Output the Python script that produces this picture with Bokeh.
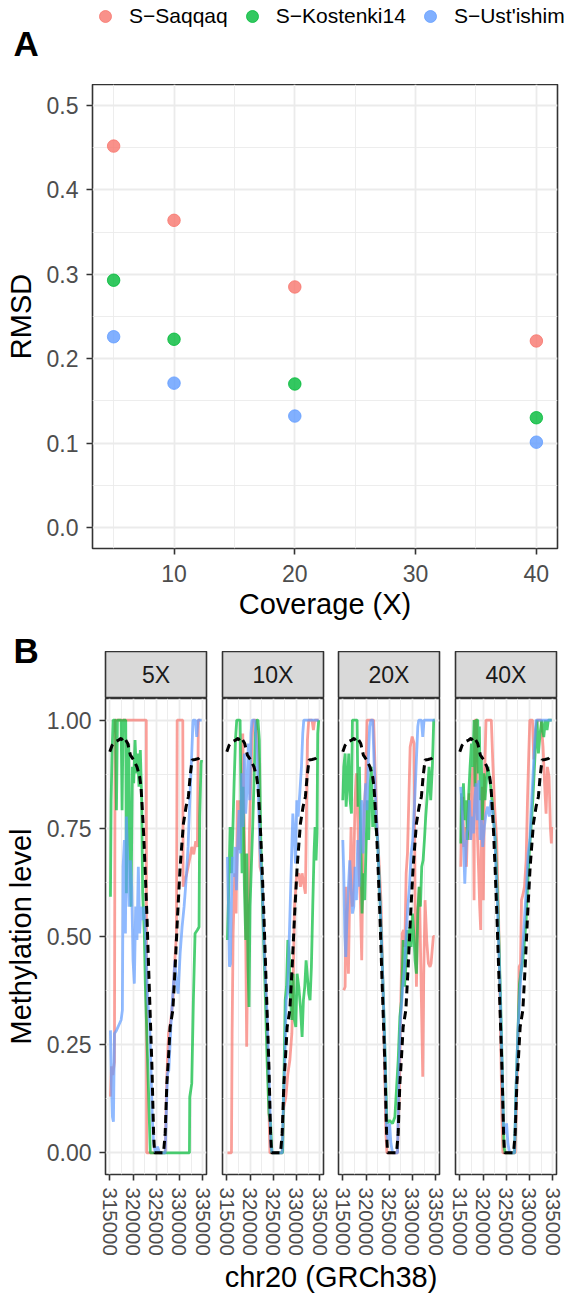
import math
from bokeh.plotting import figure
from bokeh.models import (Legend, LegendItem, Label, FixedTicker, NumeralTickFormatter,
                          Range1d, Grid, Spacer)
from bokeh.layouts import column, row
from bokeh.embed import file_html
from bokeh.resources import INLINE

# ---------------- data ----------------
samples = ["S\u2212Saqqaq", "S\u2212Kostenki14", "S\u2212Ust'ishim"]
colors = ["#F8766D", "#00BA38", "#619CFF"]

# Panel A: RMSD by coverage
coverage = [5, 10, 20, 40]
rmsd_saqqaq = [0.452, 0.364, 0.285, 0.221]
rmsd_kostenki14 = [0.293, 0.223, 0.170, 0.130]
rmsd_ustishim = [0.226, 0.171, 0.132, 0.101]

# Panel B: methylation along chr20 (position in kb, level)
facets = ["5X", "10X", "20X", "40X"]
x_breaks = [315000, 320000, 325000, 330000, 335000]

reference = [(315.00, 0.927), (315.50, 0.942), (316.21, 0.950), (316.93, 0.954), (317.43, 0.958),
             (318.00, 0.950), (318.36, 0.955), (318.86, 0.946), (319.43, 0.919), (320.14, 0.908),
             (320.85, 0.892), (321.43, 0.869), (321.71, 0.846), (321.93, 0.807), (322.28, 0.738),
             (322.64, 0.646), (323.00, 0.545), (323.35, 0.430), (323.71, 0.314), (324.07, 0.199),
             (324.42, 0.045), (324.64, 0.0), (326.57, 0.0), (326.92, 0.045), (327.28, 0.160),
             (327.64, 0.222), (327.99, 0.291), (328.57, 0.330), (329.07, 0.430), (329.57, 0.545),
             (330.14, 0.661), (330.85, 0.761), (331.42, 0.800), (331.92, 0.823), (332.28, 0.869),
             (332.71, 0.908), (333.35, 0.909), (334.06, 0.911), (334.78, 0.919)]

saqqaq_5x = [(315.14, 0.13), (315.36, 0.20), (315.64, 0.18), (316.00, 0.21), (316.14, 1.0),
             (322.85, 1.0), (322.93, 0.0), (326.92, 0.0), (327.28, 0.176), (327.64, 0.276),
             (328.14, 0.307), (328.57, 0.353), (329.00, 0.445), (329.35, 0.507), (329.50, 1.0),
             (330.71, 1.0), (330.78, 0.615), (331.56, 0.645), (332.28, 0.684), (332.64, 0.707),
             (333.07, 0.69), (333.50, 0.72), (333.85, 0.707), (334.06, 1.0), (334.42, 1.0)]
kostenki14_5x = [(315.14, 0.592), (315.28, 0.815), (315.50, 0.931), (315.71, 1.0), (316.21, 1.0),
                 (316.43, 0.792), (316.64, 1.0), (317.43, 1.0), (317.64, 0.792), (317.86, 1.0),
                 (318.43, 1.0), (318.57, 0.60), (318.78, 0.854), (319.07, 0.946), (319.28, 0.70),
                 (319.57, 0.569), (319.86, 0.892), (320.14, 0.854), (320.43, 0.954), (320.71, 0.877),
                 (321.00, 0.923), (321.28, 0.846), (321.57, 0.931), (321.86, 0.815), (322.07, 0.60),
                 (322.43, 0.507), (322.64, 0.391), (323.35, 0.137), (323.71, 0.0), (332.14, 0.0),
                 (332.21, 0.129), (332.64, 0.16), (332.99, 0.353), (333.35, 0.507), (333.85, 0.515),
                 (334.21, 0.522), (334.35, 0.777), (334.64, 0.90), (334.78, 0.908)]
ustishim_5x = [(315.14, 0.283), (315.36, 0.16), (315.57, 0.083), (315.78, 0.072), (316.00, 0.276),
               (316.43, 0.283), (316.93, 0.295), (317.43, 0.307), (317.71, 0.33), (317.86, 0.661),
               (318.14, 0.723), (318.36, 0.507), (318.57, 0.777), (318.86, 0.676), (319.14, 0.569),
               (319.43, 0.676), (319.71, 0.615), (320.00, 0.445), (320.28, 0.391), (320.57, 0.569),
               (320.85, 0.492), (321.14, 0.661), (321.43, 0.507), (321.71, 0.569), (322.07, 0.538),
               (322.43, 0.569), (322.71, 0.507), (323.14, 0.353), (323.57, 0.299), (323.85, 0.199),
               (324.14, 0.083), (324.42, 0.022), (324.85, 0.0), (325.28, 0.014), (325.71, 0.0),
               (326.92, 0.0), (327.14, 0.083), (327.42, 0.183), (327.71, 0.191), (328.14, 0.291),
               (328.57, 0.368), (329.00, 0.445), (329.35, 0.391), (329.71, 0.368), (330.14, 0.461),
               (330.56, 0.522), (330.99, 0.569), (331.42, 0.630), (331.85, 0.707), (332.28, 0.831),
               (332.64, 0.923), (332.92, 1.0), (333.42, 1.0), (333.71, 0.961), (334.00, 1.0),
               (334.78, 1.0)]

saqqaq_10x = [(315.14, 0.0), (316.00, 0.0), (316.14, 0.276), (316.36, 0.507), (316.71, 0.646),
              (317.00, 0.553), (317.28, 0.815), (317.57, 0.700), (317.86, 0.815), (318.14, 0.753),
              (318.43, 0.969), (318.71, 0.777), (319.00, 0.584), (319.28, 0.245), (319.57, 0.507),
              (319.86, 0.738), (320.14, 0.854), (320.43, 0.954), (320.71, 1.0), (321.28, 1.0),
              (321.57, 0.969), (321.93, 0.892), (322.14, 0.661), (322.50, 0.646), (323.00, 0.507),
              (323.71, 0.276), (324.28, 0.0), (326.92, 0.0), (327.28, 0.106), (327.71, 0.129),
              (328.14, 0.183), (328.57, 0.214), (329.00, 0.276), (329.28, 0.391), (329.57, 0.569),
              (330.00, 0.638), (330.49, 0.646), (330.85, 0.615), (331.21, 0.646), (331.56, 0.622),
              (331.92, 0.599), (332.14, 0.777), (332.35, 0.954), (332.64, 1.0), (333.35, 1.0),
              (333.64, 0.977), (333.92, 1.0), (334.78, 1.0)]
kostenki14_10x = [(315.14, 0.492), (315.43, 0.615), (315.71, 0.753), (316.00, 0.646), (316.28, 0.738),
                  (316.57, 0.854), (316.86, 0.954), (317.14, 1.0), (317.86, 1.0), (318.07, 0.80),
                  (318.28, 0.646), (318.50, 0.846), (318.78, 0.615), (319.07, 0.492), (319.28, 0.692),
                  (319.57, 0.43), (319.78, 0.337), (320.00, 0.569), (320.28, 0.661), (320.57, 0.753),
                  (320.85, 0.854), (321.14, 0.969), (321.43, 1.0), (321.71, 1.0), (322.00, 0.954),
                  (322.28, 0.738), (322.71, 0.569), (323.21, 0.391), (323.71, 0.199), (324.07, 0.091),
                  (324.42, 0.068), (324.71, 0.0), (327.00, 0.0), (327.28, 0.160), (327.57, 0.353),
                  (327.85, 0.384), (328.14, 0.492), (328.42, 0.461), (328.71, 0.353), (329.00, 0.307),
                  (329.28, 0.414), (329.57, 0.307), (329.85, 0.291), (330.14, 0.414), (330.49, 0.384),
                  (330.85, 0.337), (331.21, 0.268), (331.49, 0.353), (331.78, 0.384), (332.07, 0.445),
                  (332.35, 0.406), (332.64, 0.368), (332.92, 0.353), (333.21, 0.43), (333.50, 0.569),
                  (333.78, 0.692), (334.00, 0.753), (334.21, 0.676), (334.42, 0.738), (334.57, 0.969),
                  (334.78, 1.0)]
ustishim_10x = [(315.14, 0.684), (315.36, 0.569), (315.57, 0.43), (315.78, 0.437), (316.00, 0.584),
                (316.21, 0.684), (316.50, 0.638), (316.78, 0.707), (317.07, 0.607), (317.36, 0.723),
                (317.64, 0.792), (317.93, 0.692), (318.21, 0.877), (318.50, 0.753), (318.78, 0.923),
                (319.07, 0.784), (319.36, 0.846), (319.64, 0.946), (319.93, 0.815), (320.21, 0.969),
                (320.43, 1.0), (321.00, 1.0), (321.36, 0.954), (321.71, 0.854), (322.14, 0.70),
                (322.64, 0.615), (323.14, 0.445), (323.71, 0.307), (324.14, 0.160), (324.50, 0.014),
                (324.78, 0.0), (326.92, 0.0), (327.21, 0.122), (327.50, 0.214), (327.78, 0.353),
                (328.07, 0.368), (328.35, 0.461), (328.64, 0.569), (328.92, 0.676), (329.21, 0.784),
                (329.50, 0.738), (329.78, 0.669), (330.07, 0.815), (330.35, 0.777), (330.71, 0.831),
                (331.07, 0.892), (331.35, 0.969), (331.57, 1.0), (334.78, 1.0)]

saqqaq_20x = [(315.21, 0.376), (315.50, 0.384), (315.71, 0.615), (315.93, 0.507), (316.21, 0.414),
              (316.50, 0.615), (316.78, 0.753), (317.07, 0.569), (317.36, 0.661), (317.64, 0.815),
              (317.93, 0.877), (318.21, 0.777), (318.50, 0.646), (318.78, 0.584), (319.07, 0.445),
              (319.36, 0.70), (319.64, 0.80), (319.93, 0.854), (320.21, 1.0), (321.64, 1.0),
              (321.93, 0.892), (322.35, 0.753), (322.78, 0.676), (323.21, 0.584), (323.78, 0.314),
              (324.28, 0.045), (324.50, 0.0), (326.78, 0.0), (327.21, 0.16), (327.50, 0.353),
              (327.78, 0.507), (328.07, 0.515), (328.35, 0.476), (328.64, 0.646), (328.92, 0.692),
              (329.21, 0.815), (329.50, 0.938), (329.93, 0.962), (330.35, 0.946), (330.56, 0.584),
              (330.85, 0.384), (331.14, 0.553), (331.49, 0.615), (331.92, 0.353), (332.21, 0.176),
              (332.42, 0.414), (332.71, 0.584), (333.07, 0.49), (333.42, 0.438), (333.78, 0.43),
              (334.00, 0.438), (334.49, 0.50), (334.78, 0.50)]
kostenki14_20x = [(315.00, 0.815), (315.21, 0.892), (315.50, 0.923), (315.71, 0.80), (316.00, 0.854),
                  (316.28, 0.923), (316.57, 0.815), (316.86, 0.784), (317.07, 1.0), (318.07, 1.0),
                  (318.28, 0.80), (318.57, 0.892), (318.86, 0.723), (319.14, 0.553), (319.43, 0.646),
                  (319.71, 0.584), (320.00, 0.707), (320.28, 0.815), (320.57, 0.723), (320.85, 0.846),
                  (321.14, 0.892), (321.43, 0.753), (321.71, 0.815), (322.07, 0.753), (322.50, 0.723),
                  (323.07, 0.569), (323.64, 0.391), (324.07, 0.237), (324.50, 0.068), (325.07, 0.075),
                  (325.71, 0.068), (326.21, 0.083), (326.92, 0.214), (327.28, 0.314), (327.64, 0.353),
                  (327.99, 0.492), (328.28, 0.384), (328.57, 0.43), (328.85, 0.515), (329.14, 0.461),
                  (329.42, 0.522), (329.71, 0.476), (330.00, 0.553), (330.28, 0.507), (330.56, 0.445),
                  (330.85, 0.414), (331.14, 0.553), (331.42, 0.615), (331.71, 0.569), (331.99, 0.661),
                  (332.28, 0.676), (332.57, 0.723), (332.85, 0.777), (333.21, 0.831), (333.57, 0.892),
                  (333.92, 0.815), (334.28, 0.892), (334.57, 1.0), (334.78, 1.0)]
ustishim_20x = [(315.00, 0.723), (315.21, 0.646), (315.43, 0.507), (315.64, 0.453), (315.93, 0.553),
                (316.21, 0.615), (316.50, 0.676), (316.78, 0.615), (317.07, 0.553), (317.36, 0.569),
                (317.64, 0.661), (317.93, 0.584), (318.21, 0.723), (318.50, 0.615), (318.78, 0.753),
                (319.07, 0.815), (319.36, 0.692), (319.64, 0.792), (319.93, 0.854), (320.21, 0.792),
                (320.50, 0.909), (320.78, 0.985), (321.07, 1.0), (321.43, 1.0), (321.71, 0.909),
                (322.07, 0.815), (322.50, 0.723), (323.07, 0.569), (323.64, 0.391), (324.07, 0.23),
                (324.42, 0.052), (324.78, 0.029), (325.07, 0.068), (325.35, 0.022), (325.71, 0.0),
                (326.78, 0.0), (327.07, 0.183), (327.42, 0.307), (327.85, 0.376), (328.28, 0.43),
                (328.64, 0.507), (328.99, 0.569), (329.35, 0.615), (329.71, 0.692), (330.07, 0.723),
                (330.42, 0.80), (330.78, 0.892), (331.14, 0.985), (331.35, 1.0), (331.92, 1.0),
                (332.21, 0.961), (332.49, 1.0), (334.78, 1.0)]

saqqaq_40x = [(315.21, 0.661), (315.43, 0.777), (315.64, 0.823), (315.86, 0.707), (316.14, 0.753),
              (316.43, 0.661), (316.71, 0.777), (317.00, 0.831), (317.28, 0.723), (317.57, 0.854),
              (317.86, 0.892), (318.07, 0.584), (318.21, 1.0), (318.64, 1.0), (318.78, 0.738),
              (319.07, 0.646), (319.28, 0.569), (319.50, 0.515), (319.64, 0.815), (319.86, 0.846),
              (320.07, 0.584), (320.35, 0.877), (320.64, 1.0), (321.78, 1.0), (322.14, 0.892),
              (322.50, 0.80), (322.93, 0.723), (323.35, 0.545), (323.78, 0.276), (324.07, 0.083),
              (324.28, 0.0), (326.92, 0.0), (327.21, 0.122), (327.57, 0.276), (327.78, 0.43),
              (328.07, 0.437), (328.28, 0.584), (328.57, 0.596), (328.92, 0.615), (329.28, 0.676),
              (329.57, 0.815), (329.85, 0.923), (330.07, 1.0), (330.64, 1.0), (330.92, 0.909),
              (331.21, 0.969), (331.64, 1.0), (332.49, 1.0), (332.92, 0.938), (333.28, 0.846),
              (333.57, 0.784), (333.85, 0.892), (334.21, 0.869), (334.49, 0.753), (334.71, 0.715),
              (334.78, 0.753)]
kostenki14_40x = [(315.21, 0.715), (315.36, 0.831), (315.57, 0.792), (315.78, 0.854), (316.07, 0.769),
                  (316.36, 0.815), (316.64, 0.723), (316.93, 0.831), (317.21, 0.892), (317.50, 0.946),
                  (317.78, 0.892), (318.07, 1.0), (318.28, 0.846), (318.50, 1.0), (318.86, 1.0),
                  (319.00, 0.877), (319.21, 0.985), (319.43, 0.815), (319.64, 0.908), (319.86, 0.769),
                  (320.14, 0.877), (320.43, 0.815), (320.71, 0.861), (321.07, 0.892), (321.36, 0.869),
                  (321.64, 0.846), (321.93, 0.815), (322.28, 0.769), (322.64, 0.723), (323.21, 0.569),
                  (323.78, 0.353), (324.21, 0.16), (324.50, 0.014), (324.78, 0.0), (326.78, 0.0),
                  (327.14, 0.16), (327.50, 0.276), (327.85, 0.391), (328.21, 0.421), (328.57, 0.445),
                  (328.92, 0.49), (329.28, 0.538), (329.64, 0.63), (329.99, 0.70), (330.35, 0.753),
                  (330.71, 0.815), (331.07, 0.892), (331.35, 0.954), (331.64, 1.0), (331.92, 0.923),
                  (332.28, 0.969), (332.64, 1.0), (333.07, 0.961), (333.42, 1.0), (333.78, 0.977),
                  (334.06, 1.0), (334.78, 1.0)]
ustishim_40x = [(315.21, 0.846), (315.43, 0.815), (315.64, 0.753), (315.86, 0.70), (316.07, 0.622),
                (316.28, 0.684), (316.50, 0.738), (316.78, 0.753), (317.07, 0.815), (317.36, 0.723),
                (317.64, 0.777), (317.93, 0.738), (318.21, 0.815), (318.50, 0.854), (318.78, 0.769),
                (319.07, 0.861), (319.36, 0.723), (319.64, 0.769), (319.93, 0.707), (320.28, 0.753),
                (320.64, 0.784), (321.00, 0.80), (321.36, 0.777), (321.71, 0.815), (322.07, 0.792),
                (322.50, 0.738), (323.07, 0.584), (323.64, 0.391), (324.07, 0.214), (324.42, 0.052),
                (324.78, 0.045), (325.07, 0.068), (325.35, 0.022), (325.71, 0.0), (326.78, 0.0),
                (327.14, 0.16), (327.50, 0.276), (327.92, 0.368), (328.28, 0.43), (328.64, 0.492),
                (328.99, 0.553), (329.35, 0.615), (329.71, 0.692), (330.07, 0.723), (330.42, 0.80),
                (330.78, 0.877), (331.14, 0.954), (331.42, 1.0), (334.78, 1.0)]

facet_series = {
    "5X": [saqqaq_5x, kostenki14_5x, ustishim_5x],
    "10X": [saqqaq_10x, kostenki14_10x, ustishim_10x],
    "20X": [saqqaq_20x, kostenki14_20x, ustishim_20x],
    "40X": [saqqaq_40x, kostenki14_40x, ustishim_40x],
}

# ---------------- style ----------------
FONT = "Liberation Sans"
GRID_C = "#EBEBEB"
BORDER = "#333333"
TICK_TXT = "#4D4D4D"
NAN = float("nan")


def blank(w, h, bottom=0):
    f = figure(frame_width=w, frame_height=h, min_border=0, min_border_left=0, min_border_right=0,
               min_border_top=0, min_border_bottom=bottom, x_range=Range1d(0, w),
               y_range=Range1d(0, h), x_axis_location=None, y_axis_location=None,
               toolbar_location=None, output_backend="svg")
    f.title.visible = False
    f.grid.visible = False
    f.outline_line_color = None
    f.background_fill_color = "white"
    f.border_fill_color = "white"
    return f


def style_axis(ax, label_size="23px", standoff=8):
    ax.axis_line_color = None
    ax.major_tick_line_color = BORDER
    ax.major_tick_line_width = 1.6
    ax.major_tick_out = 6
    ax.major_tick_in = 0
    ax.minor_tick_line_color = None
    ax.major_label_text_font = FONT
    ax.major_label_text_font_size = label_size
    ax.major_label_text_color = TICK_TXT
    ax.major_label_standoff = standoff
    ax.axis_label_text_font = FONT
    ax.axis_label_text_font_size = "29px"
    ax.axis_label_text_font_style = "normal"
    ax.axis_label_text_color = "black"


def set_grid(p, dim, major, minor):
    grids = [g for g in p.center if isinstance(g, Grid) and g.dimension == dim]
    if not grids:
        g = Grid(dimension=dim)
        p.add_layout(g, "center")
        grids = [g]
    for g in grids:
        g.ticker = FixedTicker(ticks=major, minor_ticks=minor)
        g.grid_line_color = GRID_C
        g.grid_line_width = 1.8
        g.minor_grid_line_color = GRID_C
        g.minor_grid_line_width = 0.9


def text_label(x, y, text, size, bold=False, align="left", angle=0.0, color="black"):
    return Label(x=x, y=y, text=text, angle=angle, text_align=align, text_baseline="middle",
                 text_font=FONT, text_font_size=size,
                 text_font_style="bold" if bold else "normal", text_color=color)


# ---------------- header: legend + tag A ----------------
header = blank(566, 84)
proxies = [header.scatter([NAN], [NAN], size=12, fill_color=c, line_color=c, alpha=0.8)
           for c in colors]
legend = Legend(items=[LegendItem(label=s, renderers=[r]) for s, r in zip(samples, proxies)],
                orientation="horizontal", location=(88, 53),
                glyph_width=34, glyph_height=30, label_standoff=7, spacing=7,
                padding=0, margin=0, border_line_color=None, background_fill_alpha=0,
                label_text_font=FONT, label_text_font_size="21px", label_text_color="black")
header.add_layout(legend)
header.add_layout(text_label(13, 40.8, "A", "35px", bold=True))

# ---------------- panel A ----------------
figA = figure(frame_width=465, frame_height=464, min_border=0, min_border_left=52,
              min_border_right=9, min_border_top=0, min_border_bottom=82,
              x_range=Range1d(3.25, 41.75), y_range=Range1d(-0.025, 0.525),
              toolbar_location=None, output_backend="svg")
figA.title.visible = False
figA.outline_line_color = BORDER
figA.outline_line_width = 1.6
figA.outline_line_alpha = 1.0

xa_major = [10, 20, 30, 40]
xa_minor = [5, 15, 25, 35]
ya_major = [0.0, 0.1, 0.2, 0.3, 0.4, 0.5]
ya_minor = [0.05, 0.15, 0.25, 0.35, 0.45]
figA.xaxis.ticker = FixedTicker(ticks=xa_major, minor_ticks=xa_minor)
figA.yaxis.ticker = FixedTicker(ticks=ya_major, minor_ticks=ya_minor)
figA.xaxis.formatter = NumeralTickFormatter(format="0")
figA.yaxis.formatter = NumeralTickFormatter(format="0.0")
set_grid(figA, 0, xa_major, xa_minor)
set_grid(figA, 1, ya_major, ya_minor)
style_axis(figA.xaxis[0], standoff=10)
style_axis(figA.yaxis[0], standoff=8)
figA.xaxis.axis_label = "Coverage (X)"
figA.xaxis.axis_label_standoff = 3

for vals, c in zip([rmsd_saqqaq, rmsd_kostenki14, rmsd_ustishim], colors):
    figA.scatter(coverage, vals, size=12.5, fill_color=c, line_color=c, alpha=0.8)

leftA = blank(40, 464, bottom=82)
leftA.add_layout(text_label(20, 232, "RMSD", "29px", align="center", angle=math.pi / 2))
rowA = row(leftA, figA)

# ---------------- panel B ----------------
strip_lefts = [8, 8, 7, 8]
panel_lefts = [65, 8, 7, 8]
rights = [8, 8, 8, 10]
xr = Range1d(314072, 335815)
yr = Range1d(-0.05, 1.05)
yb_major = [0.0, 0.25, 0.5, 0.75, 1.0]
yb_minor = [0.125, 0.375, 0.625, 0.875]
xb_minor = [317500, 322500, 327500, 332500]

tagB = blank(97, 68)
tagB.add_layout(text_label(13, 48, "B", "35px", bold=True))

strips = []
leftB = blank(40, 476, bottom=85)
leftB.add_layout(text_label(20, 238, "Methylation level", "29px", align="center",
                            angle=math.pi / 2))
panels = [leftB]

for i, fac in enumerate(facets):
    s = figure(frame_width=101, frame_height=47, min_border=0, min_border_left=strip_lefts[i],
               min_border_right=rights[i], min_border_top=0, min_border_bottom=0,
               x_range=Range1d(0, 1), y_range=Range1d(0, 1),
               x_axis_location=None, y_axis_location=None,
               toolbar_location=None, output_backend="svg")
    s.title.visible = False
    s.grid.visible = False
    s.background_fill_color = "#D9D9D9"
    s.outline_line_color = BORDER
    s.outline_line_width = 1.6
    s.outline_line_alpha = 1.0
    s.add_layout(text_label(0.5, 0.5, fac, "23px", align="center", color="#1A1A1A"))
    strips.append(s)

    p = figure(frame_width=101, frame_height=476, min_border=0, min_border_left=panel_lefts[i],
               min_border_right=rights[i], min_border_top=0, min_border_bottom=85,
               x_range=xr, y_range=yr,
               y_axis_location="left" if i == 0 else None,
               toolbar_location=None, output_backend="svg")
    p.title.visible = False
    p.outline_line_color = BORDER
    p.outline_line_width = 1.6
    p.outline_line_alpha = 1.0
    p.xaxis.ticker = FixedTicker(ticks=x_breaks, minor_ticks=xb_minor)
    p.xaxis.formatter = NumeralTickFormatter(format="0")
    p.xaxis.major_label_orientation = "vertical"
    style_axis(p.xaxis[0], label_size="20.5px", standoff=7)
    set_grid(p, 0, x_breaks, xb_minor)
    set_grid(p, 1, yb_major, yb_minor)
    if i == 0:
        p.yaxis.ticker = FixedTicker(ticks=yb_major, minor_ticks=yb_minor)
        p.yaxis.formatter = NumeralTickFormatter(format="0.00")
        style_axis(p.yaxis[0], standoff=8)

    for ser, c in zip(facet_series[fac], colors):
        p.line([q[0] * 1000 for q in ser], [q[1] for q in ser], line_color=c,
               line_width=2.8, line_alpha=0.7)
    p.line([q[0] * 1000 for q in reference], [q[1] for q in reference], line_color="black",
           line_width=3.0, line_dash="8 5")
    panels.append(p)

rowStrips = row(tagB, column(Spacer(width=469, height=21), row(*strips)))
rowPanels = row(*panels)

figX = blank(566, 34)
figX.add_layout(text_label(330.5, 17, "chr20 (GRCh38)", "29px", align="center"))

layout = column(header, rowA, rowStrips, rowPanels, figX)
open("out.html", "w").write(file_html(layout, INLINE))
